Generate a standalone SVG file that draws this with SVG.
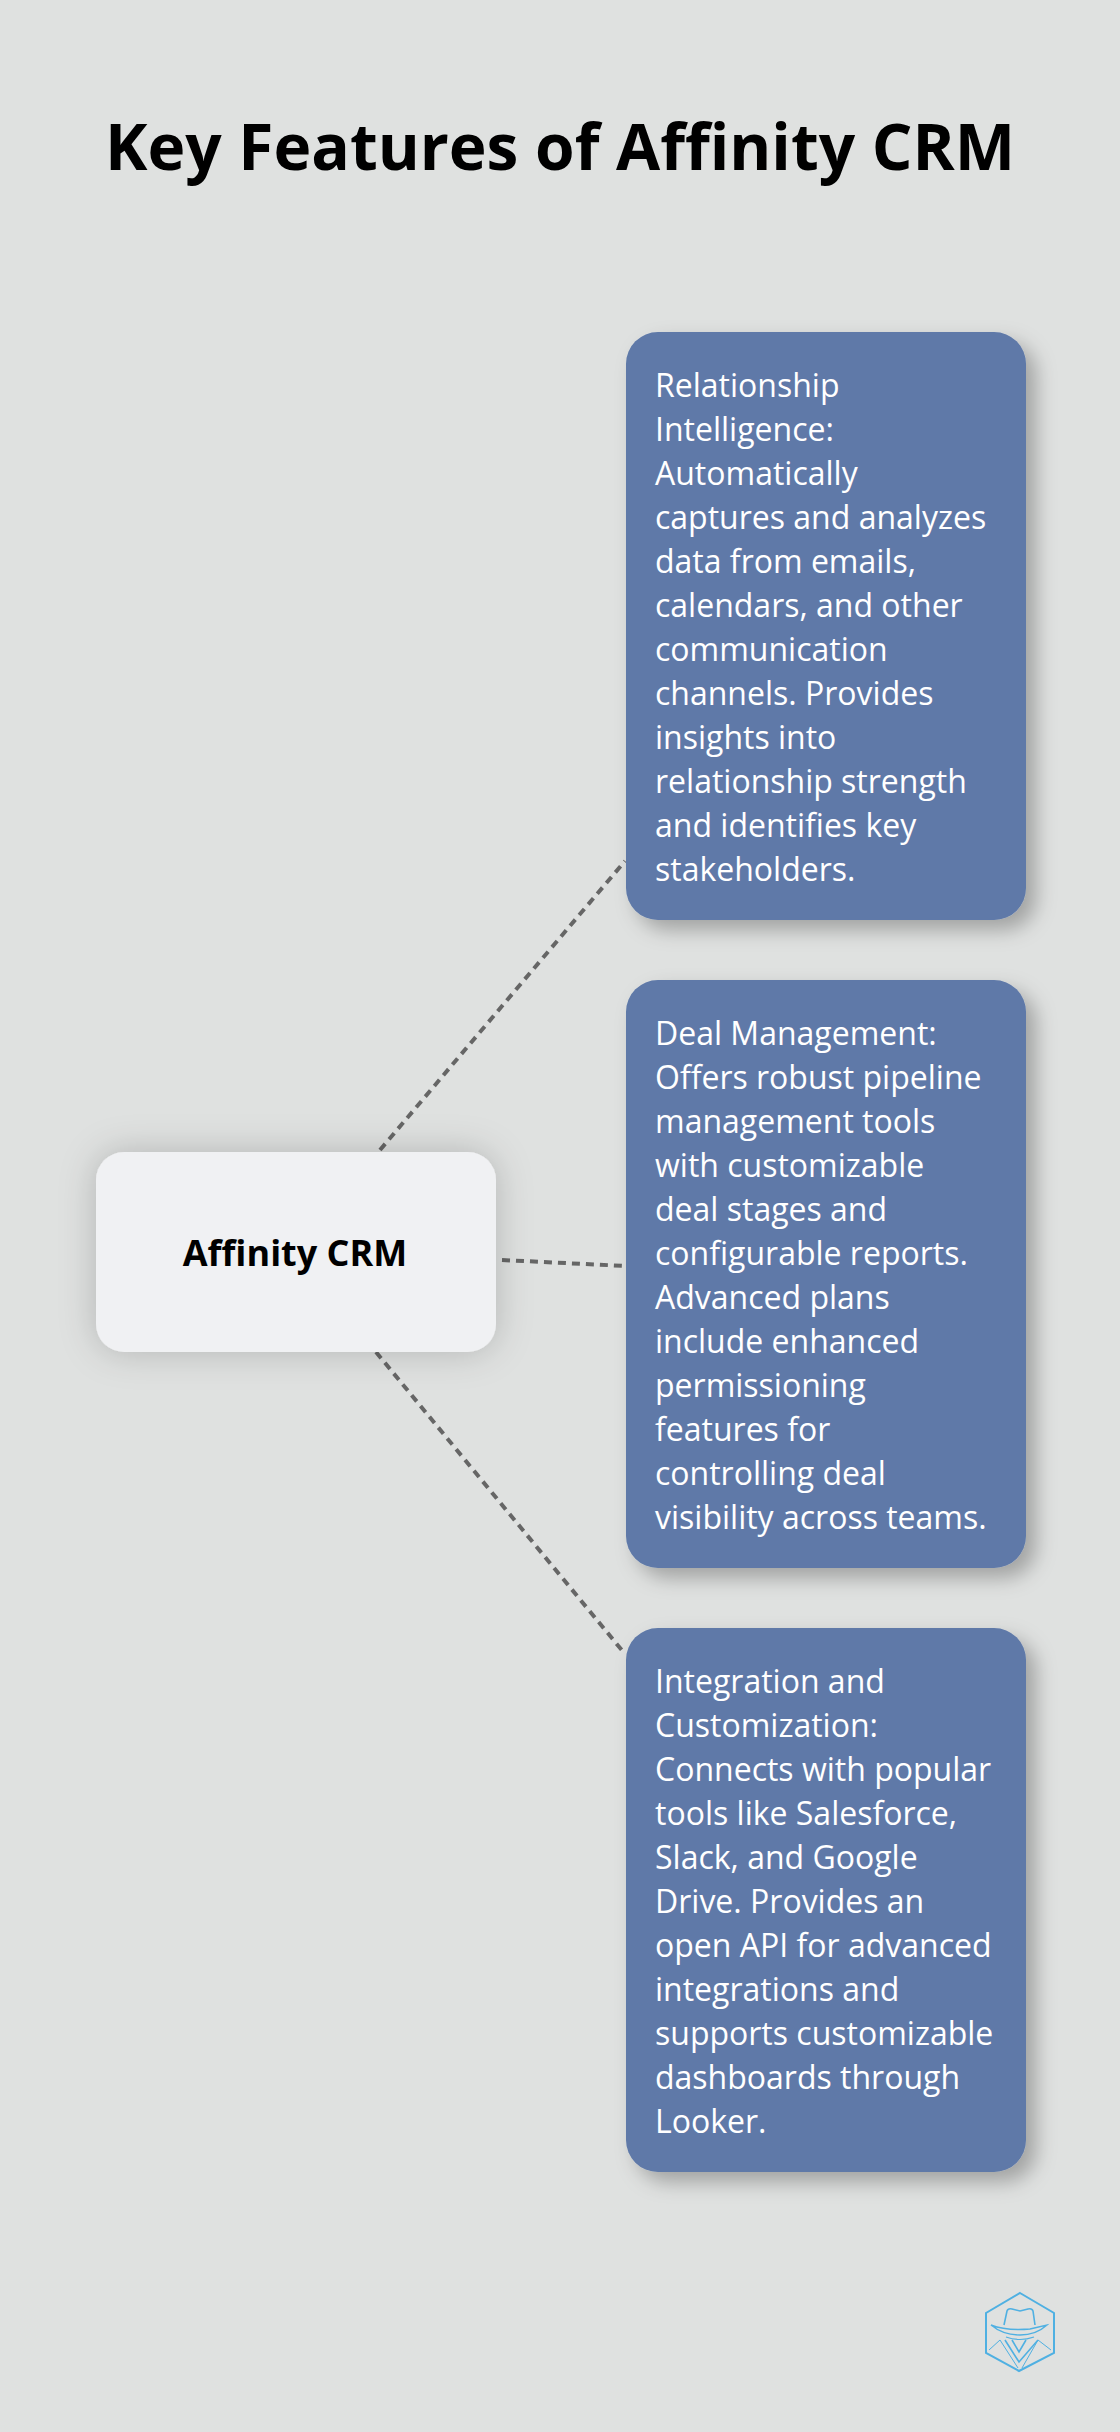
<svg xmlns="http://www.w3.org/2000/svg" width="1120" height="2432" viewBox="0 0 1120 2432">
<defs>
<filter id="s1" x="-30%" y="-40%" width="160%" height="180%"><feDropShadow dx="0" dy="0" stdDeviation="18" flood-color="#000" flood-opacity="0.2"/></filter>
<filter id="s2" x="-20%" y="-20%" width="140%" height="140%"><feDropShadow dx="10" dy="10" stdDeviation="10" flood-color="#000" flood-opacity="0.28"/></filter>
</defs>
<style>
text{font-family:"Open Sans","Noto Sans","DejaVu Sans",sans-serif}
.t{font-size:64px;font-weight:700;fill:#000;text-anchor:middle}
.c{font-size:36px;font-weight:700;fill:#000;text-anchor:middle}
.b{font-size:32px;fill:#fff}
.card{fill:#5e79a8;filter:url(#s2)}
.conn{stroke:#666;stroke-width:4;stroke-dasharray:8 6;fill:none}
.logo{fill:none;stroke:#4fb0e2}
</style>
<rect width="1120" height="2432" fill="#dfe1e0"/>
<text class="t" x="560" y="170">Key Features of Affinity CRM</text>
<g id="connectors">
<path class="conn" d="M380 1150L625 861"/>
<path class="conn" d="M502 1260L626 1266"/>
<path class="conn" d="M376 1352L625 1654"/>
</g>
<g id="center">
<rect x="96" y="1152" width="400" height="200" rx="28" fill="#f0f1f3" filter="url(#s1)"/>
<text class="c" x="295" y="1266">Affinity CRM</text>
</g>
<g id="card1">
<rect class="card" x="626" y="332" width="400" height="588" rx="32"/>
<text class="b"><tspan x="655" y="397">Relationship</tspan><tspan x="655" y="441">Intelligence:</tspan><tspan x="655" y="485">Automatically</tspan><tspan x="655" y="529">captures and analyzes</tspan><tspan x="655" y="573">data from emails,</tspan><tspan x="655" y="617">calendars, and other</tspan><tspan x="655" y="661">communication</tspan><tspan x="655" y="705">channels. Provides</tspan><tspan x="655" y="749">insights into</tspan><tspan x="655" y="793">relationship strength</tspan><tspan x="655" y="837">and identifies key</tspan><tspan x="655" y="881">stakeholders.</tspan></text>
</g>
<g id="card2">
<rect class="card" x="626" y="980" width="400" height="588" rx="32"/>
<text class="b"><tspan x="655" y="1045">Deal Management:</tspan><tspan x="655" y="1089">Offers robust pipeline</tspan><tspan x="655" y="1133">management tools</tspan><tspan x="655" y="1177">with customizable</tspan><tspan x="655" y="1221">deal stages and</tspan><tspan x="655" y="1265">configurable reports.</tspan><tspan x="655" y="1309">Advanced plans</tspan><tspan x="655" y="1353">include enhanced</tspan><tspan x="655" y="1397">permissioning</tspan><tspan x="655" y="1441">features for</tspan><tspan x="655" y="1485">controlling deal</tspan><tspan x="655" y="1529">visibility across teams.</tspan></text>
</g>
<g id="card3">
<rect class="card" x="626" y="1628" width="400" height="544" rx="32"/>
<text class="b"><tspan x="655" y="1693">Integration and</tspan><tspan x="655" y="1737">Customization:</tspan><tspan x="655" y="1781">Connects with popular</tspan><tspan x="655" y="1825">tools like Salesforce,</tspan><tspan x="655" y="1869">Slack, and Google</tspan><tspan x="655" y="1913">Drive. Provides an</tspan><tspan x="655" y="1957">open API for advanced</tspan><tspan x="655" y="2001">integrations and</tspan><tspan x="655" y="2045">supports customizable</tspan><tspan x="655" y="2089">dashboards through</tspan><tspan x="655" y="2133">Looker.</tspan></text>
</g>
<g id="logo">
<path class="logo" stroke-width="2" d="M1020 2293L1054 2313V2353L1019 2371L986 2353V2313Z"/>
<path class="logo" stroke-width="1.6" d="M1004 2325L1007 2311Q1008 2308 1012 2309L1020 2311L1028 2309Q1032 2308 1033 2311L1035 2325"/>
<path class="logo" stroke-width="1.4" d="M991 2325Q1006 2331 1030 2329L1047 2325Q1036 2335 1020 2335Q1003 2335 991 2325Z"/>
<path class="logo" stroke-width="1.2" d="M1006 2337Q1020 2342 1034 2337"/>
<path class="logo" stroke-width="1" d="M989 2350L1000 2340L1018 2368M1051 2350L1038 2340L1022 2368"/>
<path class="logo" stroke-width="1.6" d="M1005 2340L1019 2362L1038 2340M1012 2340L1019 2352L1026 2340"/>
</g>
</svg>
